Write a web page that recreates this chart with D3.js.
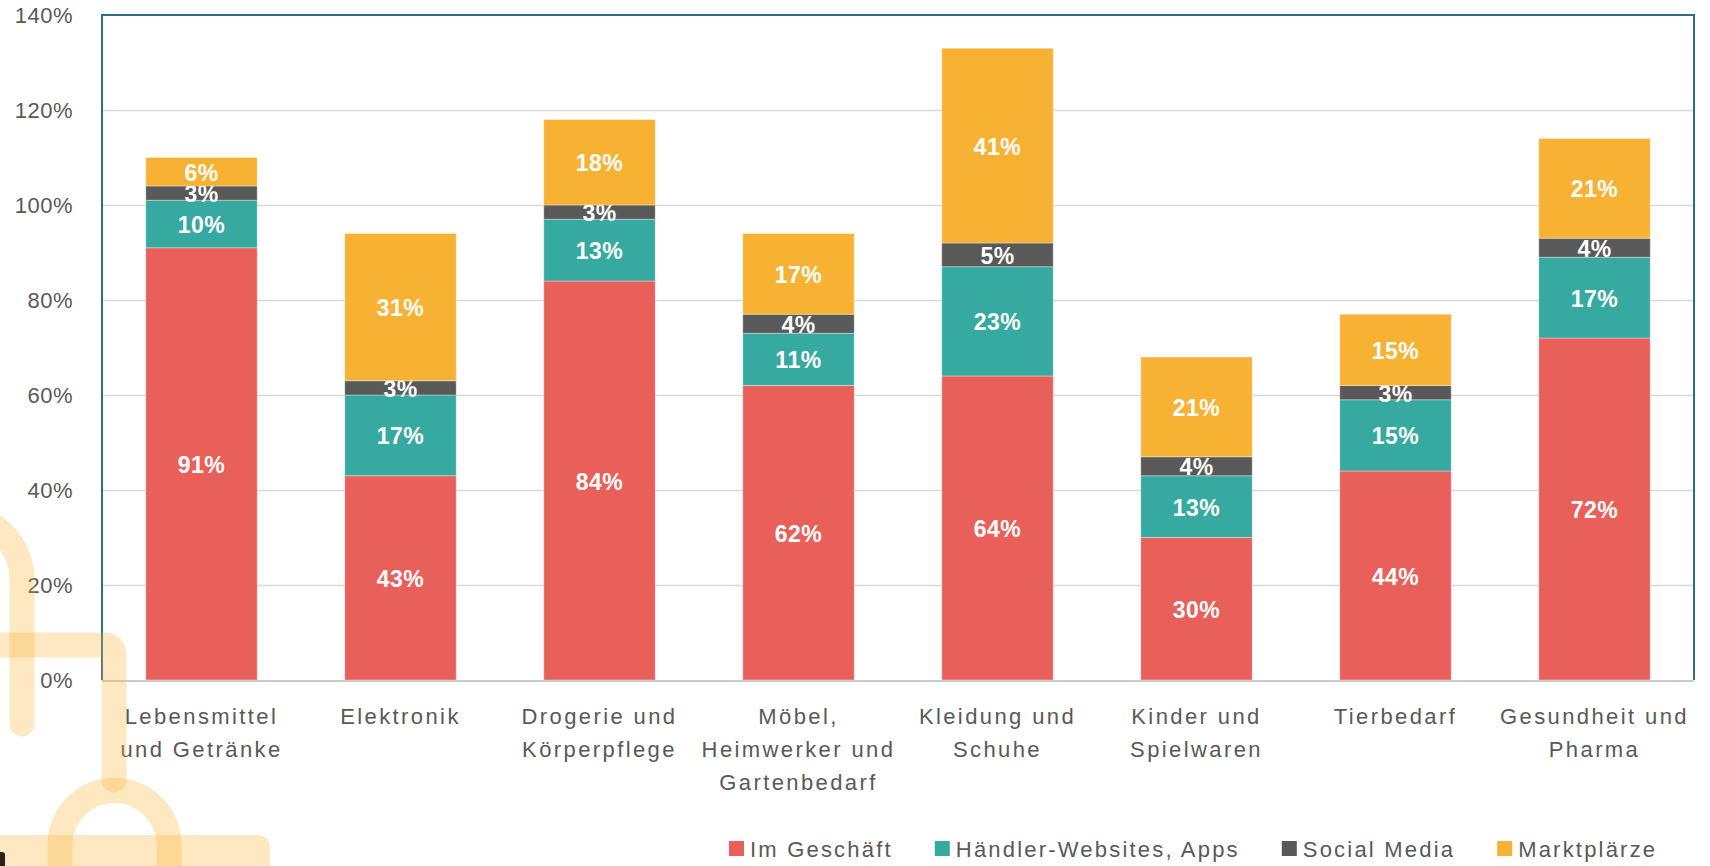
<!DOCTYPE html>
<html>
<head>
<meta charset="utf-8">
<script src="https://cdn.jsdelivr.net/npm/d3@7"></script>
<style>
  body { margin: 0; background: #fff; }
  svg { display: block; }
</style>
</head>
<body>
<div id="viz-container"></div>
<script>
// Data
const categories = ["Lebensmittel und Getränke", "Elektronik", "Drogerie und Körperpflege",
    "Möbel, Heimwerker und Gartenbedarf", "Kleidung und Schuhe", "Kinder und Spielwaren",
    "Tierbedarf", "Gesundheit und Pharma"];
const categoryLines = [
    ["Lebensmittel", "und Getränke"],
    ["Elektronik"],
    ["Drogerie und", "Körperpflege"],
    ["Möbel,", "Heimwerker und", "Gartenbedarf"],
    ["Kleidung und", "Schuhe"],
    ["Kinder und", "Spielwaren"],
    ["Tierbedarf"],
    ["Gesundheit und", "Pharma"]
];
const imGeschaeft  = [91, 43, 84, 62, 64, 30, 44, 72];
const haendlerWeb  = [10, 17, 13, 11, 23, 13, 15, 17];
const socialMedia  = [3, 3, 3, 4, 5, 4, 3, 4];
const marktplaetze = [6, 31, 18, 17, 41, 21, 15, 21];
const seriesNames = ["Im Geschäft", "Händler-Websites, Apps", "Social Media", "Marktplärze"];
const seriesColors = ["#E9605A", "#36A9A0", "#595959", "#F8B233"];
const yTicks = [0, 20, 40, 60, 80, 100, 120, 140];

const W = 1710, H = 866;
const margin = { top: 15, right: 16, bottom: 186, left: 102 };

const rows = categories.map((c, i) => ({
    cat: c,
    [seriesNames[0]]: imGeschaeft[i],
    [seriesNames[1]]: haendlerWeb[i],
    [seriesNames[2]]: socialMedia[i],
    [seriesNames[3]]: marktplaetze[i]
}));
const stacked = d3.stack().keys(seriesNames)(rows);

const svg = d3.select("#viz-container").append("svg")
    .attr("width", W).attr("height", H);

const x = d3.scaleBand()
    .domain(categories)
    .range([margin.left, W - margin.right])
    .paddingInner(0.44)
    .paddingOuter(0.22);

const y = d3.scaleLinear()
    .domain([0, 140])
    .range([H - margin.bottom, margin.top]);

const font = "'Liberation Sans', Arial, sans-serif";

// Gridlines
svg.append("g")
    .attr("transform", `translate(${margin.left},0)`)
    .call(d3.axisLeft(y).tickValues(yTicks.filter(t => t > 0 && t < 140))
        .tickSize(-(W - margin.left - margin.right)).tickFormat(""))
    .call(g => g.select(".domain").remove())
    .call(g => g.selectAll("line").attr("stroke", "#d9d9d9").attr("stroke-width", 1.5));

// Y axis labels
svg.append("g")
    .attr("transform", `translate(${margin.left},0)`)
    .call(d3.axisLeft(y).tickValues(yTicks).tickSize(0).tickPadding(29).tickFormat(d => d + "%"))
    .call(g => g.select(".domain").remove())
    .call(g => g.selectAll("text")
        .attr("fill", "#595959")
        .style("font-family", font)
        .style("font-size", "22px")
        .style("letter-spacing", "0.5px"));

// Bars
const layers = svg.append("g").selectAll("g")
    .data(stacked)
    .join("g")
    .attr("fill", (d, i) => seriesColors[i]);

layers.selectAll("rect")
    .data(d => d.map(v => ({ v, cat: v.data.cat })))
    .join("rect")
    .attr("x", d => x(d.cat))
    .attr("width", x.bandwidth())
    .attr("y", d => y(d.v[1]))
    .attr("height", d => y(d.v[0]) - y(d.v[1]))
    .attr("stroke", "#fff")
    .attr("stroke-opacity", 0.35)
    .attr("stroke-width", 1);

// Bar labels
layers.selectAll("text")
    .data(d => d.map(v => ({ v, cat: v.data.cat })))
    .join("text")
    .attr("x", d => x(d.cat) + x.bandwidth() / 2)
    .attr("y", d => y((d.v[0] + d.v[1]) / 2) + 1)
    .attr("dy", "0.35em")
    .attr("text-anchor", "middle")
    .attr("fill", "#fff")
    .style("font-family", font)
    .style("font-weight", "bold")
    .style("font-size", "23px")
    .style("letter-spacing", "0.5px")
    .text(d => (d.v[1] - d.v[0]) + "%");

// Frame: left, top, right in blue, bottom axis gray
const x0 = margin.left, x1 = W - margin.right, y0 = y(0), yTop = y(140);
svg.append("path")
    .attr("d", `M${x0},${y0} V${yTop} H${x1} V${y0}`)
    .attr("fill", "none")
    .attr("stroke", "#2E6B8C")
    .attr("stroke-width", 2);
svg.append("line")
    .attr("x1", x0).attr("x2", x1)
    .attr("y1", y0 + 1).attr("y2", y0 + 1)
    .attr("stroke", "#c4ccd0")
    .attr("stroke-width", 2);

// X labels
const xl = svg.append("g").selectAll("text")
    .data(categories)
    .join("text")
    .attr("x", d => x(d) + x.bandwidth() / 2)
    .attr("y", 716)
    .attr("text-anchor", "middle")
    .attr("fill", "#595959")
    .style("font-family", font)
    .style("font-size", "22px")
    .style("letter-spacing", "2.4px");
xl.selectAll("tspan")
    .data((d, i) => categoryLines[i])
    .join("tspan")
    .attr("x", function () { return this.parentNode.getAttribute("x"); })
    .attr("dy", (d, i) => i === 0 ? "0.35em" : "33px")
    .text(d => d);

// Legend
const legend = svg.append("g").attr("transform", "translate(729,849)");
let lx = 0;
seriesNames.forEach((name, i) => {
    const item = legend.append("g").attr("transform", `translate(${lx},0)`);
    item.append("rect")
        .attr("x", 0).attr("y", -8)
        .attr("width", 15).attr("height", 15)
        .attr("fill", seriesColors[i]);
    const t = item.append("text")
        .attr("x", 21).attr("y", 0)
        .attr("dy", "0.35em")
        .attr("fill", "#595959")
        .style("font-family", font)
        .style("font-size", "22px")
        .style("letter-spacing", "2.2px")
        .text(name);
    lx += 21 + t.node().getComputedTextLength() + 42;
});

// Decorative background icon (faint orange, bottom left)
const deco = svg.append("g")
    .attr("fill", "none")
    .attr("stroke", "#F9B233")
    .attr("stroke-opacity", 0.3)
    .attr("stroke-width", 25)
    .attr("stroke-linecap", "round")
    .attr("stroke-linejoin", "round");
deco.append("path")
    .attr("d", "M-40,515 A65,65 0 0 1 22,580 V724");
deco.append("path")
    .attr("d", "M-20,645 H104 Q114,645 114,655 V780");
deco.append("path")
    .attr("d", "M60,845 A54.5,54.5 0 0 1 169,845 V870 M60,845 V870");
svg.append("rect")
    .attr("x", -20).attr("y", 835)
    .attr("width", 290).attr("height", 60)
    .attr("rx", 12)
    .attr("fill", "#F9B233")
    .attr("fill-opacity", 0.3);
svg.append("rect")
    .attr("x", -3).attr("y", 852)
    .attr("width", 8).attr("height", 20)
    .attr("rx", 3)
    .attr("fill", "#2b2214");
</script>
</body>
</html>
